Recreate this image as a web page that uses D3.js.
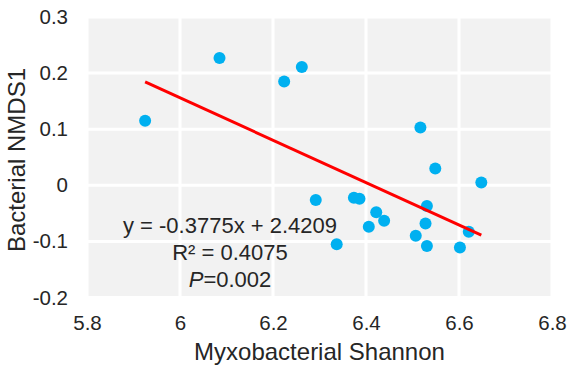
<!DOCTYPE html>
<html>
<head>
<meta charset="utf-8">
<script src="https://cdn.jsdelivr.net/npm/d3@7"></script>
<style>
  html, body { margin: 0; padding: 0; background: #ffffff; }
  svg { display: block; }
  text { font-family: "Liberation Sans", Arial, sans-serif; fill: #262626; }
</style>
</head>
<body>
<svg id="chart" width="569" height="369"></svg>
<script>
// Myxobacterial Shannon diversity vs. bacterial NMDS1 score
const shannon = [5.925, 6.085, 6.224, 6.262, 6.292, 6.337, 6.374, 6.386, 6.406, 6.422,
                 6.439, 6.507, 6.517, 6.528, 6.531, 6.531, 6.549, 6.602, 6.621, 6.648];
const nmds1   = [0.115, 0.227, 0.185, 0.211, -0.026, -0.105, -0.022, -0.024, -0.074, -0.048,
                 -0.063, -0.090, 0.103, -0.068, -0.037, -0.108, 0.030, -0.111, -0.083, 0.005];

const xTicks = [5.8, 6, 6.2, 6.4, 6.6, 6.8];
const yTicks = [0.3, 0.2, 0.1, 0, -0.1, -0.2];

// Linear trendline
const slope = -0.3775;
const intercept = 2.4209;
const eqLines = ["y = -0.3775x + 2.4209", "R\u00B2 = 0.4075"];
const pValue = "0.002";

const svg = d3.select("#chart");

const x = d3.scaleLinear().domain([5.8, 6.8]).range([87, 552]);
const y = d3.scaleLinear().domain([-0.2, 0.3]).range([297.5, 17]);

// plot background
svg.append("rect")
  .attr("x", x(5.8)).attr("y", y(0.3))
  .attr("width", x(6.8) - x(5.8)).attr("height", y(-0.2) - y(0.3))
  .attr("fill", "#f2f2f2");

// white gridlines
svg.append("g").selectAll("line").data(yTicks).join("line")
  .attr("x1", x(5.8) - 1.5).attr("x2", x(6.8) + 1.5)
  .attr("y1", d => y(d)).attr("y2", d => y(d))
  .attr("stroke", "#ffffff").attr("stroke-width", 3);
svg.append("g").selectAll("line").data(xTicks).join("line")
  .attr("y1", y(0.3) - 1.5).attr("y2", y(-0.2) + 1.5)
  .attr("x1", d => x(d)).attr("x2", d => x(d))
  .attr("stroke", "#ffffff").attr("stroke-width", 3);

// axes (labels only)
const fmt = d => String(d);
const xAxis = svg.append("g")
  .attr("transform", `translate(0,${y(-0.2)})`)
  .call(d3.axisBottom(x).tickValues(xTicks).tickFormat(fmt).tickSize(0).tickPadding(18));
const yAxis = svg.append("g")
  .attr("transform", `translate(${x(5.8)},0)`)
  .call(d3.axisLeft(y).tickValues(yTicks).tickFormat(fmt).tickSize(0).tickPadding(19));
[xAxis, yAxis].forEach(g => {
  g.select(".domain").remove();
  g.selectAll("text")
    .attr("fill", "#262626")
    .style("font-family", "'Liberation Sans', Arial, sans-serif")
    .style("font-size", "20.5px");
});

// axis titles
svg.append("text")
  .attr("x", (x(5.8) + x(6.8)) / 2).attr("y", 360)
  .attr("text-anchor", "middle")
  .style("font-size", "24px")
  .text("Myxobacterial Shannon");
svg.append("text")
  .attr("transform", "translate(25,160) rotate(-90)")
  .attr("text-anchor", "middle")
  .style("font-size", "24px")
  .text("Bacterial NMDS1");

// data points
svg.append("g").selectAll("circle").data(shannon).join("circle")
  .attr("cx", (d, i) => x(d))
  .attr("cy", (d, i) => y(nmds1[i]))
  .attr("r", 6)
  .attr("fill", "#00b0f0");

// trendline across the observed range
const xr = d3.extent(shannon);
svg.append("line")
  .attr("x1", x(xr[0])).attr("y1", y(slope * xr[0] + intercept))
  .attr("x2", x(xr[1])).attr("y2", y(slope * xr[1] + intercept))
  .attr("stroke", "#ff0000").attr("stroke-width", 3);

// equation, R² and p-value
const ann = svg.append("g").attr("text-anchor", "middle").style("font-size", "22px");
ann.append("text").attr("x", 230).attr("y", 233).text(eqLines[0]);
ann.append("text").attr("x", 230).attr("y", 260).text(eqLines[1]);
const p = ann.append("text").attr("x", 230).attr("y", 287);
p.append("tspan").style("font-style", "italic").text("P");
p.append("tspan").text("=" + pValue);
</script>
</body>
</html>
